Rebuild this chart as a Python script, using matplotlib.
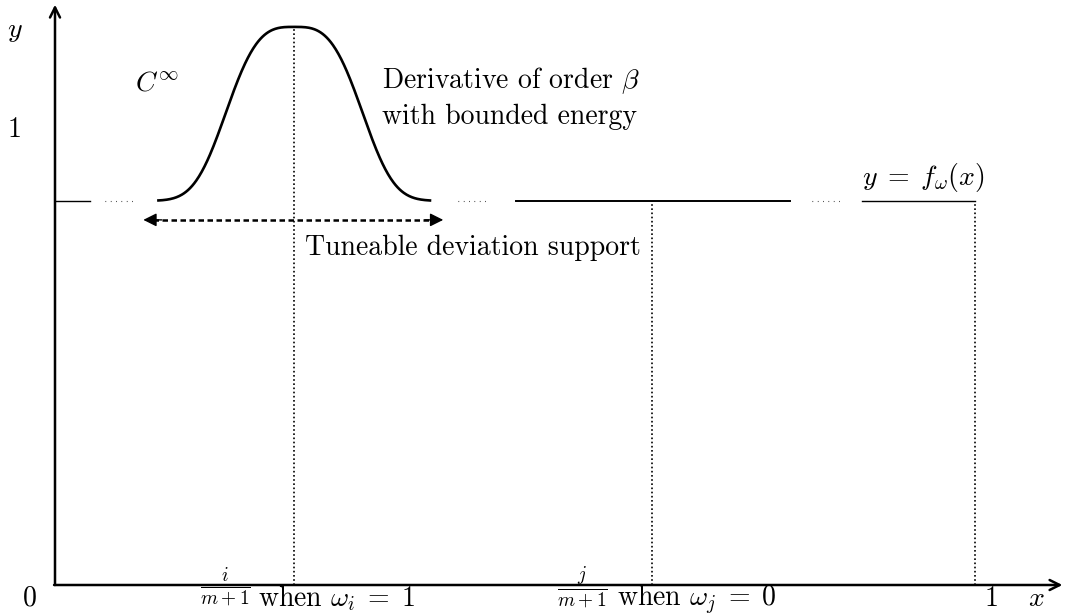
import numpy as np
import matplotlib
matplotlib.use("Agg")
import matplotlib.pyplot as plt

plt.rcParams['font.family'] = 'serif'
plt.rcParams['font.serif'] = ['cmr10', 'DejaVu Serif']
plt.rcParams['mathtext.fontset'] = 'cm'
plt.rcParams['axes.unicode_minus'] = False

# levels of the sketch (x in [0, 1], y scaled so the "1" tick sits at 1)
base_level = 0.848
bump_center = 0.26
bump_halfwidth = 0.149
bump_height = 0.384
bump_sharpness = 6.3
bump_power = 3.2
j_pos = 0.649

# flat pieces of f_omega and the "......" gaps between them
flat_pieces = [(0.0, 0.038), (0.501, 0.799), (0.877, 1.0)]
flat_widths = [1.0, 1.4, 1.0]
dot_gaps = [(0.054, 0.087), (0.438, 0.471), (0.823, 0.855)]

support_arrow = (0.096, 0.422, 0.806)

fig = plt.figure(figsize=(10.68, 6.13), dpi=100)
ax = fig.add_axes([0, 0, 1, 1])
ax.set_xlim(-55 / 920, 1013 / 920)
ax.set_ylim(-28 / 453, 585 / 453)
ax.axis('off')

# axes with arrows
ax.annotate('', xy=(0, 1.281), xytext=(0, 0),
            arrowprops=dict(arrowstyle='->', lw=1.8, color='black',
                            shrinkA=0, shrinkB=0, mutation_scale=18))
ax.annotate('', xy=(1.095, 0), xytext=(-0.001, 0),
            arrowprops=dict(arrowstyle='->', lw=1.8, color='black',
                            shrinkA=0, shrinkB=0, mutation_scale=18))

# smooth bump around i/(m+1)
xb = np.linspace(bump_center - bump_halfwidth, bump_center + bump_halfwidth, 400)
u = np.abs(xb - bump_center) / bump_halfwidth
yb = base_level + bump_height * np.exp(-bump_sharpness * u**bump_power)
ax.plot(xb, yb, color='black', lw=1.9, solid_capstyle='butt')

for (x0, x1), lw in zip(flat_pieces, flat_widths):
    ax.plot([x0, x1], [base_level, base_level], color='black', lw=lw)
for x0, x1 in dot_gaps:
    ax.plot([x0, x1], [base_level, base_level], color='black', lw=0.8,
            linestyle=(0, (0.6, 4.2)))

# vertical dotted guides
peak = base_level + bump_height
ax.plot([bump_center, bump_center], [0, peak], color='black', lw=1.2, linestyle=(0, (1, 1.5)))
ax.plot([j_pos, j_pos], [0, base_level], color='black', lw=1.2, linestyle=(0, (1, 1.5)))
ax.plot([1.0, 1.0], [0, base_level], color='black', lw=1.2, linestyle=(0, (1, 1.5)))

# tuneable support double arrow
xa0, xa1, ya = support_arrow
ax.plot([xa0 + 0.01, xa1 - 0.01], [ya, ya], color='black', lw=1.8, linestyle=(0, (2.2, 1.4)))
for tip, tail in ((xa0, xa0 + 0.02), (xa1, xa1 - 0.02)):
    ax.annotate('', xy=(tip, ya), xytext=(tail, ya),
                arrowprops=dict(arrowstyle='-|>', lw=1.0, color='black',
                                shrinkA=0, shrinkB=0, mutation_scale=20))

fs = 20
bl = -0.046
ax.text(-0.0435, 1.2097, '$y$', fontsize=fs, ha='center', va='baseline')
ax.text(-0.0435, 0.989, '1', fontsize=fs, ha='center', va='baseline')
ax.text(-0.027, bl, '0', fontsize=fs, ha='center', va='baseline')
ax.text(1.018, bl, '1', fontsize=fs, ha='center', va='baseline')
ax.text(1.067, bl, '$x$', fontsize=fs, ha='center', va='baseline')
ax.text(0.087, 1.0927, r'$C^{\infty}$', fontsize=fs, ha='left', va='baseline')
ax.text(0.3554, 1.0971, r'Derivative of order $\beta$', fontsize=fs, ha='left', va='baseline')
ax.text(0.3554, 1.0177, 'with bounded energy', fontsize=fs, ha='left', va='baseline')
ax.text(0.2717, 0.7285, 'Tuneable deviation support', fontsize=fs, ha='left', va='baseline')
ax.text(0.8772, 0.883, r'$y\;=\;f_{\omega}(x)$', fontsize=fs, ha='left', va='baseline')

# x-axis labels: fraction and the condition
ax.text((225 - 55) / 920, (585 - 588) / 453, r'$\frac{i}{m+1}$', fontsize=20, ha='center', va='center')
ax.text((258 - 55) / 920, bl, r'when $\omega_i\;=\;1$', fontsize=fs, ha='left', va='baseline')
ax.text((582 - 55) / 920, (585 - 588) / 453, r'$\frac{j}{m+1}$', fontsize=20, ha='center', va='center')
ax.text((617 - 55) / 920, bl, r'when $\omega_j\;=\;0$', fontsize=fs, ha='left', va='baseline')

fig.savefig('out.png', dpi=100)
